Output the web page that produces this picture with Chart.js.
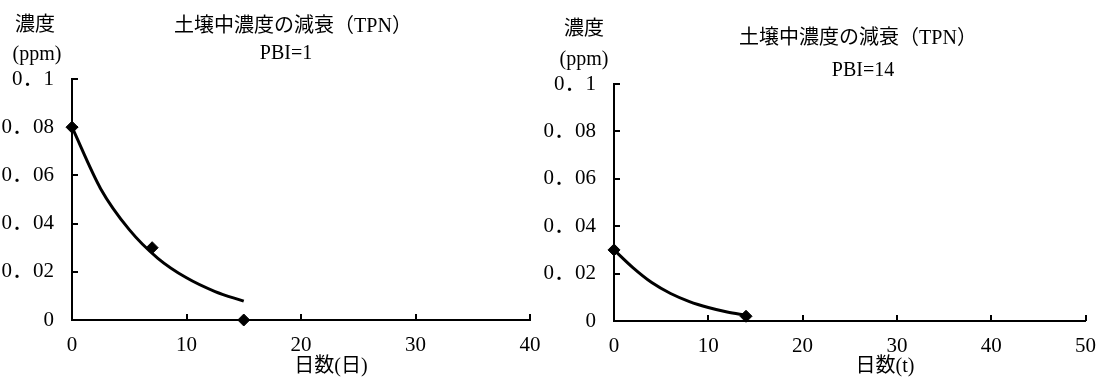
<!DOCTYPE html>
<html lang="ja">
<head>
<meta charset="utf-8">
<title>土壌中濃度の減衰（TPN）</title>
<script src="https://cdn.jsdelivr.net/npm/chart.js@4.4.1/dist/chart.umd.min.js"></script>
<style>
  html, body { margin: 0; padding: 0; background: #fff; }
  #wrap { position: relative; width: 1109px; height: 378px; overflow: hidden; }
  #wrap canvas { position: absolute; top: 0; }
</style>
</head>
<body>
<div id="wrap">
  <canvas id="chart-pbi1" width="555" height="378" style="left:0"></canvas>
  <canvas id="chart-pbi14" width="589" height="378" style="left:520px"></canvas>
</div>
<script>
// Measured concentrations (ppm) vs. days
const pbi1Days = [0, 7, 15];
const pbi1Conc = [0.08, 0.03, 0];
const pbi14Days = [0, 14];
const pbi14Conc = [0.03, 0.002];

// Fitted decay curves
const pbi1CurveDays = [0, 2.5, 5, 7.5, 10, 12.5, 15];
const pbi1CurveConc = [0.080, 0.0545, 0.0375, 0.0256, 0.0175, 0.0118, 0.0078];
const pbi14CurveDays = [0, 2, 4, 6, 8, 10, 12, 14];
const pbi14CurveConc = [0.030, 0.0225, 0.0162, 0.0116, 0.0082, 0.0057, 0.0038, 0.0024];

// Axis ticks
const yTickValues = [0, 0.02, 0.04, 0.06, 0.08, 0.1];
const yTickLabels = ['0', '0．02', '0．04', '0．06', '0．08', '0．1'];
const pbi1XTicks = [0, 10, 20, 30, 40];
const pbi14XTicks = [0, 10, 20, 30, 40, 50];

const FONT_FAMILY = "'Liberation Serif', 'Noto Sans CJK JP', serif";

Chart.defaults.color = '#000';
Chart.defaults.font.family = FONT_FAMILY;
Chart.defaults.font.size = 21;

/**
 * Short tick marks drawn inward from the axis lines
 */
const innerTicks = {
    id: 'innerTicks',
    afterDraw(chart) {
        const ctx = chart.ctx;
        const xs = chart.scales.x;
        const ys = chart.scales.y;
        const len = 6;
        ctx.save();
        ctx.strokeStyle = '#000';
        ctx.lineWidth = 2;
        ctx.beginPath();
        xs.ticks.forEach(t => {
            const px = Math.round(xs.getPixelForValue(t.value));
            ctx.moveTo(px, ys.bottom);
            ctx.lineTo(px, ys.bottom - len);
        });
        ys.ticks.forEach(t => {
            const py = Math.round(ys.getPixelForValue(t.value));
            ctx.moveTo(xs.left, py);
            ctx.lineTo(xs.left + len, py);
        });
        ctx.stroke();
        ctx.restore();
    }
};

/**
 * Titles and axis captions placed at fixed spots on the canvas
 */
const freeText = {
    id: 'freeText',
    afterDraw(chart, args, opts) {
        const ctx = chart.ctx;
        ctx.save();
        ctx.fillStyle = '#000';
        ctx.font = '20px ' + FONT_FAMILY;
        ctx.textAlign = 'center';
        ctx.textBaseline = 'middle';
        (opts.items || []).forEach(item => {
            ctx.fillText(item.text, item.x, item.y);
        });
        ctx.restore();
    }
};

function toPoints(xs, ys) {
    return xs.map((x, i) => ({ x: x, y: ys[i] }));
}

function buildChart(canvasId, cfg) {
    const el = document.getElementById(canvasId);
    return new Chart(el, {
        type: 'scatter',
        data: {
            datasets: [
                {
                    label: 'fit',
                    data: toPoints(cfg.curveDays, cfg.curveConc),
                    showLine: true,
                    borderColor: '#000',
                    borderWidth: 3,
                    pointRadius: 0,
                    cubicInterpolationMode: 'monotone',
                    clip: false
                },
                {
                    label: 'measured',
                    data: toPoints(cfg.days, cfg.conc),
                    showLine: false,
                    pointStyle: 'rectRot',
                    pointRadius: 6,
                    backgroundColor: '#000',
                    borderColor: '#000',
                    borderWidth: 1,
                    clip: false
                }
            ]
        },
        options: {
            responsive: false,
            animation: false,
            devicePixelRatio: 1,
            layout: {
                padding: { left: 0, top: cfg.top, right: cfg.padRight, bottom: 0 }
            },
            scales: {
                x: {
                    type: 'linear',
                    min: 0,
                    max: cfg.xTicks[cfg.xTicks.length - 1],
                    afterBuildTicks: scale => {
                        scale.ticks = cfg.xTicks.map(v => ({ value: v }));
                    },
                    afterFit: scale => { scale.height = cfg.xHeight; },
                    grid: { display: false, drawTicks: false },
                    border: { display: true, color: '#000', width: 2 },
                    ticks: { padding: 13, maxRotation: 0, autoSkip: false }
                },
                y: {
                    type: 'linear',
                    min: 0,
                    max: 0.1,
                    afterBuildTicks: scale => {
                        scale.ticks = yTickValues.map(v => ({ value: v }));
                    },
                    afterFit: scale => { scale.width = cfg.yWidth; },
                    grid: { display: false, drawTicks: false },
                    border: { display: true, color: '#000', width: 2 },
                    ticks: {
                        padding: 18,
                        autoSkip: false,
                        callback: (value, index) => yTickLabels[index]
                    }
                }
            },
            plugins: {
                legend: { display: false },
                tooltip: { enabled: false },
                freeText: { items: cfg.texts }
            }
        },
        plugins: [innerTicks, freeText]
    });
}

buildChart('chart-pbi1', {
    days: pbi1Days,
    conc: pbi1Conc,
    curveDays: pbi1CurveDays,
    curveConc: pbi1CurveConc,
    xTicks: pbi1XTicks,
    top: 79,
    padRight: 25,
    yWidth: 72,
    xHeight: 58,
    texts: [
        { text: '濃度', x: 35, y: 26 },
        { text: '(ppm)', x: 37, y: 55 },
        { text: '土壌中濃度の減衰（TPN）', x: 293, y: 27 },
        { text: 'PBI=1', x: 286, y: 54 },
        { text: '日数(日)', x: 331, y: 367 }
    ]
});

buildChart('chart-pbi14', {
    days: pbi14Days,
    conc: pbi14Conc,
    curveDays: pbi14CurveDays,
    curveConc: pbi14CurveConc,
    xTicks: pbi14XTicks,
    top: 84,
    padRight: 11,
    yWidth: 94,
    xHeight: 57,
    texts: [
        { text: '濃度', x: 64, y: 30 },
        { text: '(ppm)', x: 64, y: 60 },
        { text: '土壌中濃度の減衰（TPN）', x: 338, y: 39 },
        { text: 'PBI=14', x: 343, y: 71 },
        { text: '日数(t)', x: 365, y: 367 }
    ]
});
</script>
</body>
</html>
